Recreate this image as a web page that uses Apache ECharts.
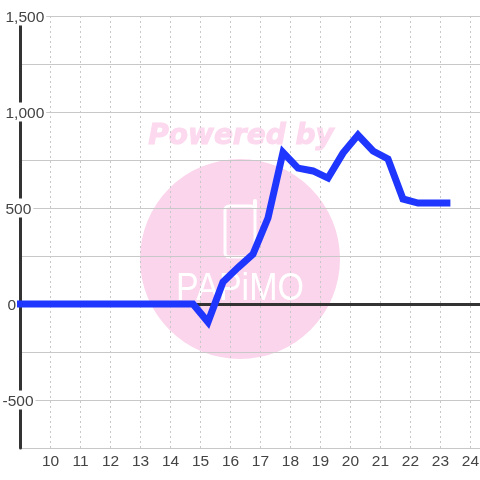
<!DOCTYPE html>
<html>
<head>
<meta charset="utf-8">
<style>
html, body { margin: 0; padding: 0; background: #fff; }
#chart { width: 480px; height: 480px; }
</style>
<script src="https://cdn.jsdelivr.net/npm/echarts@6/dist/echarts.min.js"></script>
</head>
<body>
<div id="chart"></div>
<script>
// half hour slots
const hours = [8.88, 14.75, 15.25, 15.75, 16.25, 16.75, 17.25, 17.75, 18.25, 18.75, 19.25, 19.75, 20.25, 20.75, 21.25, 21.75, 22.25, 22.75, 23.33];
const values = [0, 0, -94, 115, 190, 260, 448, 790, 708, 693, 656, 786, 880, 797, 755, 547, 526, 526, 526];
const yLabels = [-500, 0, 500, 1000, 1500];

const gridColor = '#c8c8c8';
const dark = '#333333';
const labelColor = '#444444';
const pink = '#fbd5ec';

// the labels are not lined up in the original, so each length gets its own gap
function yLabel(v) {
    if (yLabels.indexOf(v) < 0) return '';
    const s = v.toLocaleString('en-US');
    const gap = s.length === 1 ? 'wide' : s.length === 4 ? 'none' : 'mid';
    return '{' + gap + '| }{t|' + s + '}';
}

const chart = echarts.init(document.getElementById('chart'));
chart.setOption({
    animation: false,
    grid: { left: 20.5, right: 0, top: 16, bottom: 32, outerBoundsMode: 'none' },
    graphic: [
        { type: 'circle', z: -10, shape: { cx: 240, cy: 259, r: 100 }, style: { fill: pink } },
        { type: 'text', z: -10, style: { x: 241, y: 137, text: 'Powered by', align: 'center', verticalAlign: 'middle', font: 'italic bold 28px "DejaVu Sans"', fill: '#fcd9ee', stroke: '#fcd9ee', lineWidth: 1 } },
        { type: 'rect', z: -9, shape: { x: 225, y: 206, width: 30, height: 51, r: 4 }, style: { fill: 'none', stroke: '#fff', lineWidth: 3 } },
        { type: 'line', z: -9, shape: { x1: 255, y1: 201, x2: 255, y2: 208 }, style: { stroke: '#fff', lineWidth: 4, lineCap: 'round' } },
        { type: 'text', z: -9, x: 240, y: 289, scaleY: 1.15, style: { x: 0, y: 0, text: 'PAPiMO', align: 'center', verticalAlign: 'middle', font: '34px "Liberation Sans"', fill: '#fff' } }
    ],
    xAxis: {
        type: 'value',
        min: 9,
        max: 24.317,
        interval: 1,
        axisLine: { show: false },
        axisTick: { show: false },
        axisLabel: {
            color: labelColor,
            fontFamily: 'Liberation Sans',
            fontSize: 15.5,
            margin: 6,
            showMinLabel: false,
            showMaxLabel: false
        },
        splitLine: { show: true, showMinLine: false, showMaxLine: false, lineStyle: { color: gridColor, type: [2, 3], width: 1 } }
    },
    yAxis: {
        type: 'value',
        min: -750,
        max: 1500,
        interval: 250,
        axisLine: { show: true, onZero: false, lineStyle: { color: dark, width: 3 } },
        axisTick: { show: false },
        axisLabel: {
            inside: true,
            margin: -20,
            formatter: yLabel,
            rich: {
                none: { width: 0 },
                mid: { width: 3 },
                wide: { width: 5 },
                t: {
                    color: labelColor,
                    fontFamily: 'Liberation Sans',
                    fontSize: 15.5,
                    backgroundColor: '#fff',
                    padding: [3, 2, 0, 2]
                }
            }
        },
        splitLine: { show: true, lineStyle: { color: gridColor, width: 1 } }
    },
    series: [
        {
            type: 'line',
            data: hours.map(function (h, i) { return [h, values[i]]; }),
            showSymbol: false,
            clip: false,
            lineStyle: { color: '#1f36ff', width: 7, join: 'miter' },
            markLine: {
                silent: true,
                symbol: 'none',
                label: { show: false },
                lineStyle: { color: dark, type: 'solid', width: 3 },
                data: [{ yAxis: 0 }],
                z: 1
            },
            z: 5
        }
    ]
});
</script>
</body>
</html>
